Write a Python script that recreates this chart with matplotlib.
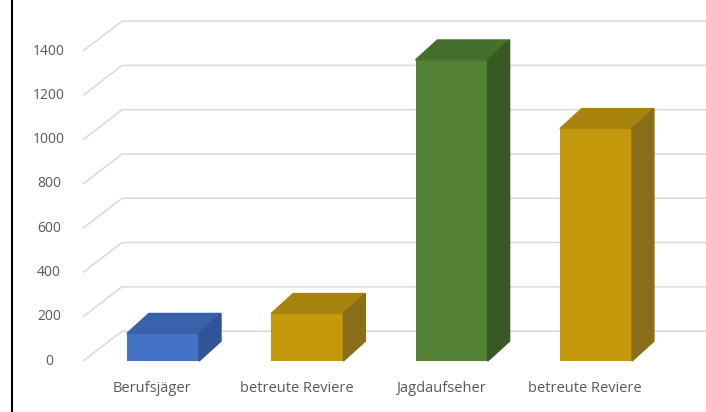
import matplotlib
matplotlib.use("Agg")
import matplotlib.pyplot as plt
from matplotlib.patches import Polygon

# data
categories = ["Berufsjäger", "betreute Reviere", "Jagdaufseher", "betreute Reviere"]
values = [125, 215, 1360, 1050]
ticks = [0, 200, 400, 600, 800, 1000, 1200, 1400]

front_colors = ["#4472c4", "#c49a0c", "#548235", "#c49a0c"]
top_colors = ["#3862ab", "#a8840e", "#44702b", "#a8840e"]
side_colors = ["#2f5597", "#8a6d18", "#375a22", "#8a6d18"]

# 3d look (category units / value units)
bar_w = 0.5
bar_dx, bar_dy = 0.152, 90
wall_x0, wall_x1 = -0.554, -0.284
wall_dy = 135

fig = plt.figure(figsize=(7.06, 4.12), dpi=100)
ax = fig.add_axes([0, 0, 1, 1])
ax.set_xlim(-1.1296, 3.763)
ax.set_ylim(-230, 1630.5)
ax.axis("off")

# gridlines: front diagonal + back wall
for t in ticks:
    ax.plot([wall_x0, wall_x1, 3.763], [t, t + wall_dy, t + wall_dy],
            color="#d9d9d9", lw=1.1, zorder=1, solid_capstyle="butt")
    ax.text(-0.79, t, str(t), ha="center", va="center",
            fontsize=10, color="#595959", family="Open Sans")

for i, (v, fc, tc, sc) in enumerate(zip(values, front_colors, top_colors, side_colors)):
    x0, x1 = i - bar_w / 2, i + bar_w / 2
    ax.bar(i, v, width=bar_w, color=fc, zorder=3)
    ax.add_patch(Polygon([(x0, v), (x1, v), (x1 + bar_dx, v + bar_dy), (x0 + bar_dx, v + bar_dy)],
                         closed=True, color=tc, zorder=3))
    ax.add_patch(Polygon([(x1, 0), (x1 + bar_dx, bar_dy), (x1 + bar_dx, v + bar_dy), (x1, v)],
                         closed=True, color=sc, zorder=3))
    ax.text(i - 0.076, -122, categories[i], ha="center", va="center",
            fontsize=10.5, color="#595959", family="Open Sans")

# left frame line
fig.add_artist(plt.Line2D([12 / 706, 12 / 706], [0, 1], color="black", lw=1.5))

fig.savefig("out.png", dpi=100)
